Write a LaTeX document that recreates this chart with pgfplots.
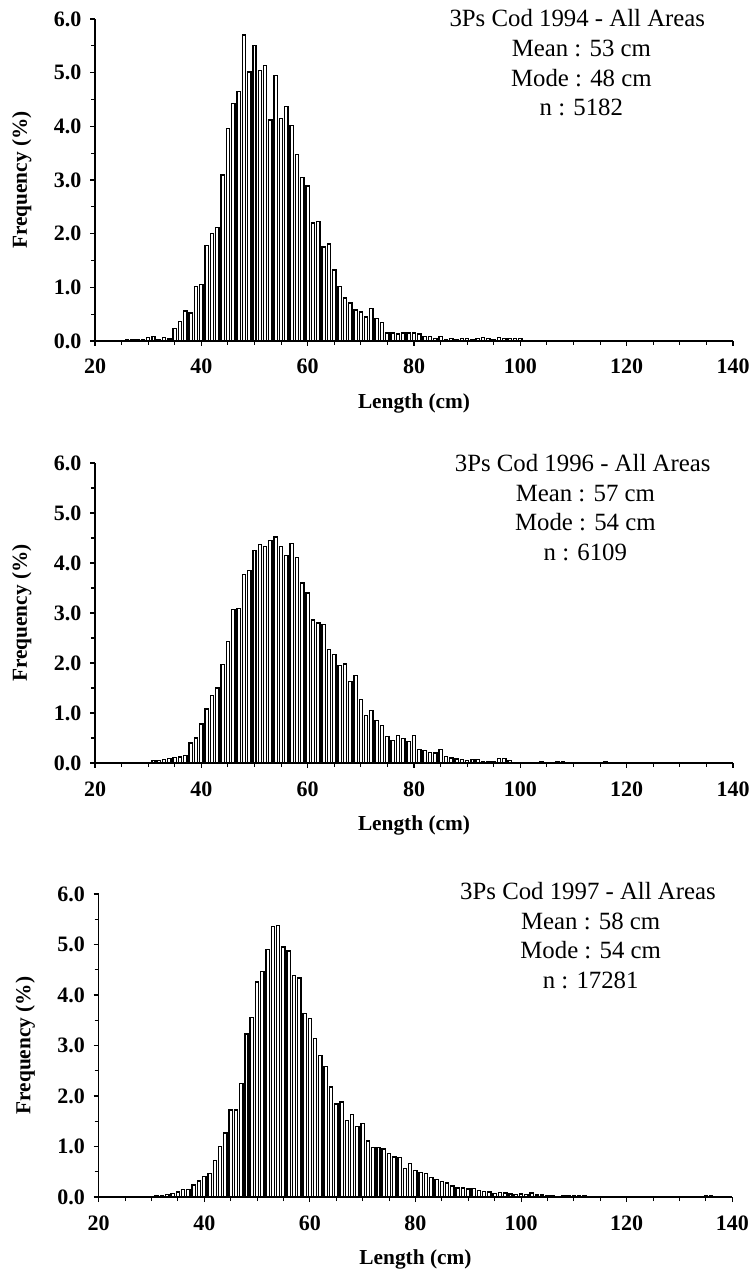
\documentclass[border=0pt]{standalone}
\usepackage{pgfplots}
\pgfplotsset{compat=1.18}
\usepackage{fontspec}
\setmainfont{Liberation Serif}

\pgfplotsset{
  codstyle/.style={
    scale only axis,
    xmin=20, xmax=140, ymin=0, ymax=6,
    axis x line=bottom, axis y line=left,
    axis line style={-, line width=0.9pt},
    tick align=outside,
    xtick={20,40,60,80,100,120,140},
    xticklabels={20,40,60,80,100,120,140},
    minor xtick={25,30,35,45,50,55,65,70,75,85,90,95,105,110,115,125,130,135},
    ytick={0,1,2,3,4,5,6},
    yticklabels={0.0,1.0,2.0,3.0,4.0,5.0,6.0},
    minor ytick={0.5,1.5,2.5,3.5,4.5,5.5},
    major tick length=3.75pt, minor tick length=3pt,
    every tick/.style={black, line width=0.8pt},
    tick label style={font=\fontsize{16.5}{19}\selectfont\bfseries},
    xticklabel style={yshift=-6.5pt},
    yticklabel style={xshift=-3pt},
    xlabel={Length (cm)}, ylabel={Frequency (\%)},
    label style={font=\fontsize{16}{19}\selectfont\bfseries},
    xlabel style={at={(axis description cs:0.5,0)}, anchor=center, yshift=-47pt},
    ylabel style={at={(axis description cs:0,0.5)}, anchor=center, yshift=55pt},
    ybar, bar width=0.62,
    clip=false,
  },
  codbars/.style={fill=white, draw=black, line width=1.0pt},
}
\newcommand{\infofont}{\fontsize{18.6}{22}\selectfont}

\begin{document}
\begin{tikzpicture}
\useasboundingbox (0,0) rectangle (564pt,952.5pt);

% ---------------- Panel 1 : 1994 ----------------
\begin{axis}[codstyle, at={(71.25pt,696.75pt)}, anchor=south west, width=478.5pt, height=241.5pt]
\addplot[codbars] coordinates {
(26,0.02)(27,0.02)(28,0.03)(29,0.03)(30,0.06)(31,0.08)(32,0.03)(33,0.07)(34,0.04)
(35,0.23)(36,0.36)(37,0.56)(38,0.52)(39,1.02)(40,1.05)(41,1.78)(42,2.00)(43,2.11)
(44,3.09)(45,3.96)(46,4.43)(47,4.65)(48,5.70)(49,5.01)(50,5.51)(51,5.04)(52,5.13)
(53,4.12)(54,4.95)(55,4.14)(56,4.37)(57,4.02)(58,3.48)(59,3.05)(60,2.89)(61,2.20)
(62,2.23)(63,1.75)(64,1.81)(65,1.32)(66,1.01)(67,0.80)(68,0.71)(69,0.58)(70,0.54)
(71,0.45)(72,0.60)(73,0.42)(74,0.35)(75,0.15)(76,0.15)(77,0.13)(78,0.15)(79,0.15)
(80,0.15)(81,0.13)(82,0.08)(83,0.08)(84,0.05)(85,0.08)(86,0.03)(87,0.05)(88,0.03)
(89,0.05)(90,0.05)(91,0.03)(92,0.05)(93,0.07)(94,0.05)(95,0.03)(96,0.06)(97,0.05)
(98,0.05)(99,0.05)(100,0.05)
};
\end{axis}
\node[anchor=base, font=\infofont] at (433pt,932.25pt) {3Ps Cod 1994 - All Areas};
\node[anchor=base, font=\infofont] at (436pt,909.75pt) {Mean : 53 cm};
\node[anchor=base, font=\infofont] at (436pt,887.6pt) {Mode : 48 cm};
\node[anchor=base, font=\infofont] at (436pt,865.5pt) {n : 5182};

% ---------------- Panel 2 : 1996 ----------------
\begin{axis}[codstyle, at={(71.25pt,380.25pt)}, anchor=south west, width=478.5pt, height=225pt]
\addplot[codbars] coordinates {
(31,0.05)(32,0.05)(33,0.07)(34,0.09)(35,0.11)(36,0.12)(37,0.15)(38,0.40)(39,0.50)
(40,0.78)(41,1.08)(42,1.35)(43,1.50)(44,1.97)(45,2.43)(46,3.07)(47,3.09)(48,3.77)
(49,3.85)(50,4.25)(51,4.37)(52,4.33)(53,4.45)(54,4.52)(55,4.33)(56,4.15)(57,4.39)
(58,4.11)(59,3.60)(60,3.40)(61,2.86)(62,2.80)(63,2.77)(64,2.27)(65,2.17)(66,1.95)
(67,1.98)(68,1.63)(69,1.75)(70,1.27)(71,0.95)(72,1.05)(73,0.85)(74,0.75)(75,0.53)
(76,0.45)(77,0.55)(78,0.49)(79,0.43)(80,0.55)(81,0.27)(82,0.25)(83,0.21)(84,0.20)
(85,0.27)(86,0.13)(87,0.10)(88,0.08)(89,0.07)(90,0.05)(91,0.07)(92,0.07)(93,0.03)
(94,0.03)(95,0.02)(96,0.09)(97,0.09)(98,0.05)(104,0.03)(107,0.03)(108,0.03)(116,0.03)
};
\end{axis}
\node[anchor=base, font=\infofont] at (437pt,598.5pt) {3Ps Cod 1996 - All Areas};
\node[anchor=base, font=\infofont] at (439pt,576.4pt) {Mean : 57 cm};
\node[anchor=base, font=\infofont] at (439pt,554.25pt) {Mode : 54 cm};
\node[anchor=base, font=\infofont] at (439pt,532.1pt) {n : 6109};

% ---------------- Panel 3 : 1997 ----------------
\begin{axis}[codstyle, at={(74pt,54.75pt)}, anchor=south west, width=475.2pt, height=227.25pt]
\addplot[codbars] coordinates {
(31,0.03)(32,0.02)(33,0.05)(34,0.07)(35,0.10)(36,0.15)(37,0.15)(38,0.24)(39,0.32)
(40,0.40)(41,0.47)(42,0.72)(43,1.00)(44,1.27)(45,1.72)(46,1.72)(47,2.25)(48,3.23)
(49,3.55)(50,4.26)(51,4.46)(52,4.90)(53,5.35)(54,5.38)(55,4.95)(56,4.87)(57,4.38)
(58,4.34)(59,3.64)(60,3.54)(61,3.14)(62,2.80)(63,2.59)(64,2.18)(65,1.84)(66,1.88)
(67,1.51)(68,1.64)(69,1.39)(70,1.45)(71,1.11)(72,0.98)(73,0.98)(74,0.95)(75,0.86)
(76,0.79)(77,0.78)(78,0.57)(79,0.66)(80,0.52)(81,0.48)(82,0.46)(83,0.38)(84,0.34)
(85,0.31)(86,0.28)(87,0.22)(88,0.18)(89,0.18)(90,0.16)(91,0.17)(92,0.13)(93,0.11)
(94,0.10)(95,0.07)(96,0.09)(97,0.08)(98,0.06)(99,0.05)(100,0.06)(101,0.05)(102,0.08)
(103,0.04)(104,0.04)(105,0.03)(106,0.02)(108,0.03)(109,0.03)(110,0.03)(111,0.02)
(112,0.02)(130,0.01)(133,0.01)(135,0.02)(136,0.02)(137,0.01)(138,0.01)
};
\end{axis}
\node[anchor=base, font=\infofont] at (441pt,277.5pt) {3Ps Cod 1997 - All Areas};
\node[anchor=base, font=\infofont] at (443pt,255.4pt) {Mean : 58 cm};
\node[anchor=base, font=\infofont] at (443pt,233.25pt) {Mode : 54 cm};
\node[anchor=base, font=\infofont] at (443pt,211.1pt) {n : 17281};
\end{tikzpicture}
\end{document}
